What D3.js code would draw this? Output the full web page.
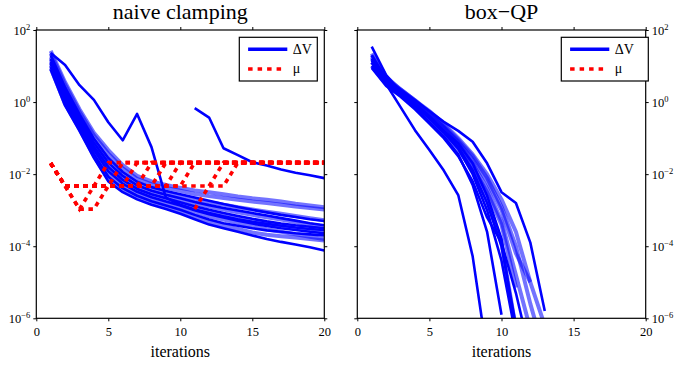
<!DOCTYPE html>
<html><head><meta charset="utf-8">
<script src="https://cdn.jsdelivr.net/npm/d3@7"></script>
<style>
body{margin:0;background:#fff}
svg text{font-family:"Liberation Serif","Times New Roman",Times,serif;fill:#000}
</style>
</head><body>
<svg id="c" width="674" height="366"></svg>
<script>
// ---------- data ----------
const xTicks = [0, 5, 10, 15, 20];
const yTicks = [1e-6, 1e-4, 1e-2, 1e0, 1e2];
const titles = ["naive clamping", "box\u2212QP"];
const legendLabels = ["\u0394V", "\u03bc"];

// ΔV per iteration (1,2,3,...), stored as log10 values; null = no data
const leftDvLightLog10 = [
  [1.42,0.55,-0.2,-0.85,-1.33,-1.75,-2.05,-2.2,-2.3,-2.38,-2.45,-2.5,-2.56,-2.62,-2.67,-2.71,-2.76,-2.82,-2.87,-2.92],
  [1.35,0.48,-0.27,-0.93,-1.43,-1.84,-2.13,-2.28,-2.38,-2.46,-2.55,-2.61,-2.66,-2.71,-2.76,-2.8,-2.85,-2.9,-2.94,-2.98],
  [1.25,0.35,-0.38,-1.06,-1.6,-1.98,-2.25,-2.4,-2.5,-2.6,-2.7,-2.78,-2.85,-2.92,-2.98,-3.04,-3.1,-3.16,-3.22,-3.28],
  [1.18,0.26,-0.47,-1.17,-1.72,-2.09,-2.34,-2.49,-2.6,-2.7,-2.81,-2.9,-2.98,-3.06,-3.13,-3.2,-3.26,-3.33,-3.39,-3.46],
  [1.1,0.16,-0.56,-1.27,-1.85,-2.2,-2.44,-2.59,-2.7,-2.81,-2.93,-3.04,-3.12,-3.21,-3.29,-3.36,-3.43,-3.5,-3.55,-3.6],
  [1.02,0.06,-0.65,-1.38,-1.98,-2.31,-2.54,-2.69,-2.8,-2.92,-3.05,-3.17,-3.26,-3.35,-3.44,-3.53,-3.6,-3.67,-3.74,-3.8],
  [0.94,-0.05,-0.75,-1.5,-2.13,-2.44,-2.65,-2.8,-2.92,-3.04,-3.19,-3.33,-3.43,-3.52,-3.62,-3.68,-3.72,-3.76,-3.8,-3.84]
];
const leftDvDarkLog10 = [
  [1.3,0.4,-0.35,-1.02,-1.55,-1.94,-2.21,-2.36,-2.47,-2.56,-2.65,-2.74,-2.83,-2.91,-2.99,-3.06,-3.13,-3.19,-3.25,-3.3],
  [1.2,0.29,-0.44,-1.13,-1.68,-2.05,-2.31,-2.46,-2.57,-2.67,-2.77,-2.86,-2.94,-3.01,-3.08,-3.15,-3.22,-3.29,-3.36,-3.42],
  [1.12,0.19,-0.53,-1.24,-1.8,-2.16,-2.41,-2.56,-2.67,-2.78,-2.89,-2.99,-3.08,-3.16,-3.24,-3.31,-3.37,-3.42,-3.46,-3.5],
  [1.06,0.11,-0.61,-1.33,-1.92,-2.26,-2.49,-2.64,-2.76,-2.87,-3.0,-3.11,-3.2,-3.29,-3.37,-3.44,-3.5,-3.55,-3.6,-3.64],
  [0.97,0.0,-0.71,-1.45,-2.07,-2.39,-2.6,-2.75,-2.87,-2.99,-3.13,-3.26,-3.36,-3.43,-3.5,-3.56,-3.6,-3.64,-3.67,-3.7],
  [0.9,-0.1,-0.8,-1.55,-2.2,-2.5,-2.7,-2.85,-2.97,-3.1,-3.25,-3.4,-3.5,-3.6,-3.7,-3.8,-3.88,-3.95,-4.03,-4.12],
  [1.36,1.03,0.47,0.06,-0.56,-1.06,-0.33,-1.25,-2.65,-2.85,-2.98,-3.08,-3.17,-3.25,-3.32,-3.38,-3.43,-3.48,-3.52,-3.55],
  [null,null,null,null,null,null,null,null,null,null,-0.17,-0.43,-1.28,-1.47,-1.67,-1.76,-1.87,-1.96,-2.03,-2.11]
];
// μ per iteration, log10
const leftMuLog10 = [
  [-1.7,-2.33,-2.97,-2.33,-1.68,-1.68,-1.68,-1.68,-1.68,-1.68,-1.68,-1.68,-1.68,-1.68,-1.68,-1.68,-1.68,-1.68,-1.68,-1.68],
  [-1.7,-2.33,-2.97,-2.97,-2.33,-1.68,-1.68,-1.68,-1.68,-1.68,-1.68,-1.68,-1.68,-1.68,-1.68,-1.68,-1.68,-1.68,-1.68,-1.68],
  [-1.7,-2.33,-2.33,-2.33,-2.33,-2.33,-1.68,-1.68,-1.68,-1.68,-1.68,-1.68,-1.68,-1.68,-1.68,-1.68,-1.68,-1.68,-1.68,-1.68],
  [-1.7,-2.33,-2.33,-2.33,-2.33,-2.33,-2.33,-1.68,-1.68,-1.68,-1.68,-1.68,-1.68,-1.68,-1.68,-1.68,-1.68,-1.68,-1.68,-1.68],
  [-1.7,-2.33,-2.33,-2.33,-2.33,-2.33,-2.33,-2.33,-1.68,-1.68,-1.68,-1.68,-1.68,-1.68,-1.68,-1.68,-1.68,-1.68,-1.68,-1.68],
  [-1.7,-2.33,-2.33,-2.33,-2.33,-2.33,-2.33,-2.33,-2.33,-1.68,-1.68,-1.68,-1.68,-1.68,-1.68,-1.68,-1.68,-1.68,-1.68,-1.68],
  [-1.7,-2.33,-2.33,-2.33,-2.33,-2.33,-2.33,-2.33,-2.33,-2.33,-1.68,-1.68,-1.68,-1.68,-1.68,-1.68,-1.68,-1.68,-1.68,-1.68],
  [null,null,null,null,null,null,null,null,null,null,-2.97,-2.33,-1.68,-1.68,-1.68,-1.68,-1.68,-1.68,-1.68,-1.68],
  [-1.7,-2.33,-2.33,-2.33,-2.33,-2.33,-2.33,-2.33,-2.33,-2.33,-2.33,-2.33,-2.33,-1.68,-1.68,-1.68,-1.68,-1.68,-1.68,-1.68]
];
const rightDvLightLog10 = [
  [1.25,0.6,0.3,0.0,-0.3,-0.7,-1.1,-1.6,-2.2,-3.0,-4.2,-5.0],
  [1.35,0.7,0.35,0.05,-0.25,-0.6,-1.0,-1.45,-2.0,-2.7,-3.6,-5.0,-6.2],
  [1.1,0.55,0.25,-0.05,-0.4,-0.75,-1.2,-1.8,-2.5,-3.4,-5.15],
  [1.2,0.6,0.3,-0.05,-0.35,-0.7,-1.15,-1.7,-2.4,-3.3,-4.8,-6.3],
  [1.0,0.5,0.2,-0.1,-0.45,-0.85,-1.3,-1.9,-2.7,-3.9,-6.3],
  [1.3,0.65,0.35,0.05,-0.3,-0.65,-1.05,-1.5,-2.1,-2.9,-4.0,-5.6,-7.0]
];
const rightDvDarkLog10 = [
  [1.0,0.5,-0.14,-0.78,-1.33,-1.9,-2.58,-4.28,-7.0],
  [1.54,0.75,0.3,-0.05,-0.4,-0.8,-1.15,-1.7,-2.6,-3.8,-6.5],
  [1.3,0.65,0.35,0.05,-0.25,-0.55,-0.8,-1.1,-1.7,-2.5,-2.8,-3.9,-5.8],
  [1.1,0.5,0.2,-0.15,-0.55,-0.95,-1.45,-2.3,-3.6,-5.9],
  [1.2,0.55,0.25,-0.1,-0.45,-0.85,-1.3,-2.0,-3.0,-4.4,-6.5],
  [0.95,0.45,0.15,-0.2,-0.6,-1.0,-1.5,-2.2,-3.2,-3.9,-5.3,-7.0],
  [1.15,0.6,0.3,-0.05,-0.4,-0.8,-1.25,-1.9,-2.8,-4.0,-6.2]
];

// ---------- drawing ----------
const svg = d3.select('#c');
const Y0 = 30, Y1 = 318.3;
const BLUE = '#0000ff', RED = '#ff0000';
const SERIF = '"Liberation Serif","Times New Roman",Times,serif';

function supLabel(sel){
  sel.each(function(d){
    const e = Math.round(Math.log10(d));
    const t = d3.select(this);
    t.text(null);
    t.append('tspan').text('10');
    t.append('tspan').attr('dy','-0.55em').attr('font-size','8.5px').text(e < 0 ? '\u2212' + (-e) : String(e));
  });
}

function panel(cfg){
  const g = svg.append('g').attr('font-family', SERIF);
  const x = d3.scaleLinear().domain([0,20]).range([cfg.x0,cfg.x1]);
  const y = d3.scaleLog().domain([1e-6,1e2]).range([Y1,Y0]);
  const clipId = 'clip' + cfg.id;
  svg.append('clipPath').attr('id',clipId).append('rect')
    .attr('x',cfg.x0).attr('y',Y0).attr('width',cfg.x1-cfg.x0).attr('height',Y1-Y0);
  const plot = g.append('g').attr('clip-path',`url(#${clipId})`);
  const line = d3.line().defined(d => d[1] != null)
    .x(d => x(d[0])).y(d => y(Math.pow(10,d[1])));
  const pts = arr => arr.map((v,k) => [k+1, v]);

  plot.selectAll('path.lt').data(cfg.light).join('path').attr('class','lt')
    .attr('d', d => line(pts(d))).attr('fill','none').attr('stroke',BLUE)
    .attr('stroke-opacity',0.55).attr('stroke-width',4).attr('stroke-linejoin','round');
  plot.selectAll('path.dk').data(cfg.dark).join('path').attr('class','dk')
    .attr('d', d => line(pts(d))).attr('fill','none').attr('stroke',BLUE)
    .attr('stroke-width',2.6).attr('stroke-linejoin','round');
  plot.selectAll('path.mu').data(cfg.mu).join('path').attr('class','mu')
    .attr('d', d => line(pts(d))).attr('fill','none').attr('stroke',RED)
    .attr('stroke-width',3.6).attr('stroke-dasharray','4.5,4.5');

  const styleAxis = a => {
    a.select('.domain').remove();
    a.selectAll('.tick line').attr('stroke','#000').attr('stroke-width',1);
    a.attr('font-family', SERIF).attr('font-size',null);
    a.selectAll('text').attr('font-family', SERIF).attr('font-size','12.5px').attr('fill','#000');
  };
  g.append('g').attr('transform',`translate(0,${Y1})`)
    .call(d3.axisBottom(x).tickValues(xTicks).tickSize(3).tickSizeOuter(0).tickPadding(6)).call(styleAxis);
  g.append('g').attr('transform',`translate(0,${Y0})`)
    .call(d3.axisTop(x).tickValues(xTicks).tickSize(3).tickSizeOuter(0).tickFormat('')).call(styleAxis);
  const ya = g.append('g').attr('transform',`translate(${cfg.x0},0)`)
    .call(d3.axisLeft(y).tickValues(yTicks).tickSize(3).tickSizeOuter(0).tickPadding(3)
      .tickFormat(cfg.labelsLeft ? (d => d) : '')).call(styleAxis);
  const yb = g.append('g').attr('transform',`translate(${cfg.x1},0)`)
    .call(d3.axisRight(y).tickValues(yTicks).tickSize(3).tickSizeOuter(0).tickPadding(3)
      .tickFormat(cfg.labelsLeft ? '' : (d => d))).call(styleAxis);
  if (cfg.labelsLeft) ya.selectAll('.tick text').call(supLabel);
  else yb.selectAll('.tick text').call(supLabel);

  g.append('rect').attr('x',cfg.x0).attr('y',Y0).attr('width',cfg.x1-cfg.x0).attr('height',Y1-Y0)
    .attr('fill','none').attr('stroke','#000').attr('stroke-width',1.2);

  g.append('text').attr('x',(cfg.x0+cfg.x1)/2).attr('y',18.5).attr('text-anchor','middle')
    .attr('font-family', SERIF).attr('font-size','22px').text(cfg.title);
  g.append('text').attr('x',(cfg.x0+cfg.x1)/2).attr('y',356.5).attr('text-anchor','middle')
    .attr('font-family', SERIF).attr('font-size','16px').text('iterations');

  // legend
  const lg = g.append('g');
  lg.append('rect').attr('x',cfg.lx).attr('y',37.3).attr('width',cfg.lw).attr('height',43.7)
    .attr('fill','#fff').attr('stroke','#000').attr('stroke-width',1.2);
  lg.append('line').attr('x1',cfg.lx+8.8).attr('x2',cfg.lx+48).attr('y1',49.3).attr('y2',49.3)
    .attr('stroke',BLUE).attr('stroke-width',3.5);
  lg.append('line').attr('x1',cfg.lx+8.8).attr('x2',cfg.lx+46).attr('y1',69).attr('y2',69)
    .attr('stroke',RED).attr('stroke-width',3.6).attr('stroke-dasharray','4.5,5');
  lg.append('text').attr('x',cfg.lx+53.5).attr('y',54.2).attr('font-family', SERIF).attr('font-size','14px').text(legendLabels[0]);
  lg.append('text').attr('x',cfg.lx+53.5).attr('y',73.3).attr('font-family', SERIF).attr('font-size','14px').text(legendLabels[1]);
}

panel({id:'L', x0:36.3, x1:324.3, title:titles[0], labelsLeft:true,
  light:leftDvLightLog10, dark:leftDvDarkLog10, mu:leftMuLog10, lx:239.3, lw:78});
panel({id:'R', x0:357.3, x1:645.7, title:titles[1], labelsLeft:false,
  light:rightDvLightLog10, dark:rightDvDarkLog10, mu:[], lx:561.3, lw:87});
</script>
</body></html>
